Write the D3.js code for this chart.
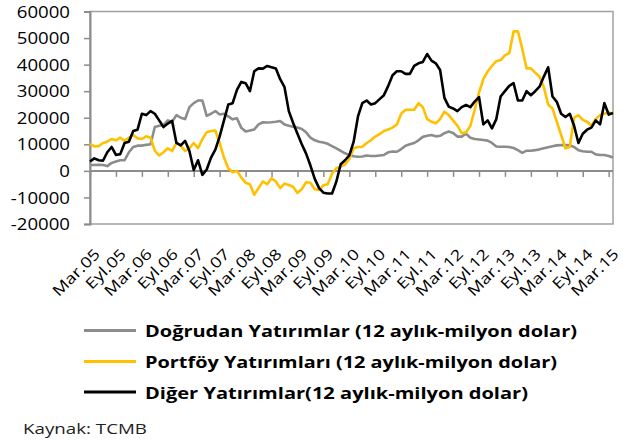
<!DOCTYPE html>
<html><head><meta charset="utf-8">
<script src="https://cdn.jsdelivr.net/npm/d3@7"></script>
<style>html,body{margin:0;padding:0;background:#fff;}svg{display:block;}</style>
</head><body>
<svg id="c" width="633" height="443"></svg>
<script>
// Month index 0 = Mar.05 ... 121 = Nis.15
const tickLabels = ["Mar.05","Eyl.05","Mar.06","Eyl.06","Mar.07","Eyl.07","Mar.08","Eyl.08","Mar.09","Eyl.09","Mar.10","Eyl.10","Mar.11","Eyl.11","Mar.12","Eyl.12","Mar.13","Eyl.13","Mar.14","Eyl.14","Mar.15"];
const yTicks = [-20000,-10000,0,10000,20000,30000,40000,50000,60000];
const seriesNames = ["Doğrudan Yatırımlar (12 aylık-milyon dolar)","Portföy Yatırımları (12 aylık-milyon dolar)","Diğer Yatırımlar(12 aylık-milyon dolar)"];
const source = "Kaynak: TCMB";

const dogrudan = [2200,2200,2300,2200,1800,3000,3500,4000,4000,7000,9000,9500,9500,9800,10000,16500,17000,17200,19000,18500,21000,20000,19500,24000,25500,26500,26500,20700,21500,22500,21200,21500,20500,19400,19800,16200,14800,15200,15600,17500,18300,18200,18300,18500,18800,17500,17000,16600,16300,15800,14500,12500,11500,11000,10700,10200,9300,8500,7500,6600,6000,5500,5300,5400,5800,5600,5600,5800,6000,7000,7300,7200,8200,9500,10000,10500,11500,12800,13200,13500,13000,13200,14200,14800,14300,12900,12900,14000,12500,12000,11800,11600,11400,10500,9200,9100,9100,9000,8600,7800,6800,7600,7600,7800,8100,8500,8900,9300,9600,9700,9700,9600,9000,7800,7400,7200,7200,6200,6000,6000,5600,5000];
const portfoy = [10200,9200,9300,10500,11000,12000,11500,12500,11300,12500,13500,12300,12000,13000,12500,7500,5800,7000,8500,7500,10500,9500,7500,8500,10500,8500,12000,14500,15000,15200,10500,5000,1000,-500,0,-2500,-4500,-5000,-9000,-6500,-4000,-5000,-2800,-4000,-6500,-4800,-5300,-6000,-8300,-6800,-4300,-4500,-6900,-7200,-5400,-5000,-1000,1000,1600,2400,4500,8500,9000,9100,10500,11500,12900,13800,15000,15600,16300,17500,21500,23000,23000,23000,25500,24000,19500,18500,17900,19500,22300,21000,19000,17000,14200,14500,17000,23000,29500,34500,37500,39500,41300,41700,43500,44300,52500,52500,46000,38600,38600,37000,35500,31500,25000,23500,18500,13500,8500,9000,20000,21000,19200,18500,17000,19500,21000,21500,22000,21500];
const diger = [3500,4700,4000,3800,7000,9000,6000,6300,10500,11000,15000,15500,21500,21000,22500,21500,19000,16500,17800,18800,10500,9600,11300,7500,300,4000,-1500,500,5000,8000,13000,19000,25000,25500,30500,33500,33000,30000,37500,38600,38500,39500,39000,38500,34500,31500,22500,18000,14000,10000,6500,2000,-3000,-6500,-8200,-8500,-8500,-4000,2500,4000,5800,11000,20500,25500,26500,25000,25500,27000,28500,32000,36000,37500,37500,36500,36500,39500,40500,41000,44000,41500,40500,38000,27500,24200,23500,22500,24000,24800,24000,26100,27800,17500,19000,16000,19500,28000,30000,32000,33000,26500,26500,30000,28500,30000,31700,35500,39000,28000,26000,21500,20300,21500,17000,10500,14000,15500,16300,19000,17500,25500,21200,21800];
const colors = ["#8c8c8c","#ffc000","#000000"];

const svg = d3.select("#c");
const FONT = "'Open Sans', 'DejaVu Sans', sans-serif";
const pLeft = 90, pRight = 613, pTop = 11.5, pBottom = 224;
const x = d3.scaleLinear().domain([0, dogrudan.length - 1]).range([pLeft, pRight]);
const y = d3.scaleLinear().domain([-20000, 60000]).range([pBottom, pTop]);

function stretch(sel, f) {
  sel.each(function() {
    const w = this.getComputedTextLength();
    d3.select(this).attr("textLength", w * f).attr("lengthAdjust", "spacingAndGlyphs");
  });
}

// plot area border
svg.append("rect").attr("x", pLeft).attr("y", pTop).attr("width", pRight - pLeft).attr("height", pBottom - pTop)
  .attr("fill", "none").attr("stroke", "#a0a0a0").attr("stroke-width", 1.5);

// y axis
const yAxis = svg.append("g").attr("transform", `translate(${pLeft},0)`)
  .call(d3.axisLeft(y).tickValues(yTicks).tickSize(6).tickFormat(d => String(d)));
yAxis.select(".domain").attr("stroke", "#8c8c8c").attr("stroke-width", 2);
yAxis.selectAll(".tick line").attr("stroke", "#8c8c8c").attr("stroke-width", 1.5);
yAxis.selectAll(".tick text").attr("x", -20).attr("dy", "0.36em")
  .attr("font-family", FONT).attr("font-size", 15.5).attr("fill", "#000");
stretch(yAxis.selectAll(".tick text"), 1.2);

// x axis at zero
const xTickVals = tickLabels.map((d, i) => i * 6);
const xAxis = svg.append("g").attr("transform", `translate(0,${y(0)})`)
  .call(d3.axisBottom(x).tickValues(xTickVals).tickSize(6).tickFormat(""));
xAxis.select(".domain").attr("stroke", "#8c8c8c").attr("stroke-width", 2).attr("d", `M${pLeft},0H${pRight}`);
xAxis.selectAll(".tick line").attr("stroke", "#8c8c8c").attr("stroke-width", 1.5);

// x labels at bottom, rotated
const xl = svg.append("g").selectAll("text").data(tickLabels).join("text")
  .attr("transform", (d, i) => `translate(${x(i * 6) + 11},${pBottom + 31}) rotate(-45)`)
  .attr("text-anchor", "end")
  .attr("font-family", FONT).attr("font-size", 15).attr("fill", "#000")
  .text(d => d);
stretch(xl, 1.22);

// lines
const allSeries = [dogrudan, portfoy, diger];
const line = d3.line().x((d, i) => x(i)).y(d => y(d));
allSeries.forEach((s, k) => {
  svg.append("path").datum(s).attr("d", line).attr("fill", "none")
    .attr("stroke", colors[k]).attr("stroke-width", 2.6).attr("stroke-linejoin", "round");
});

// legend
const legY = [330.5, 361.5, 392];
const legendTargets = [432, 412, 383];
seriesNames.forEach((n, k) => {
  svg.append("line").attr("x1", 84).attr("x2", 136).attr("y1", legY[k]).attr("y2", legY[k])
    .attr("stroke", colors[k]).attr("stroke-width", 3);
  svg.append("text").attr("x", 145).attr("y", legY[k] + 6.5)
    .attr("font-family", FONT).attr("font-weight", "bold").attr("font-size", 16.5).attr("fill", "#000")
    .attr("textLength", legendTargets[k]).attr("lengthAdjust", "spacingAndGlyphs")
    .text(n);
});

svg.append("text").attr("x", 23).attr("y", 434).attr("font-family", FONT).attr("font-size", 15)
  .attr("fill", "#222").attr("textLength", 124).attr("lengthAdjust", "spacingAndGlyphs").text(source);
</script>
</body></html>
